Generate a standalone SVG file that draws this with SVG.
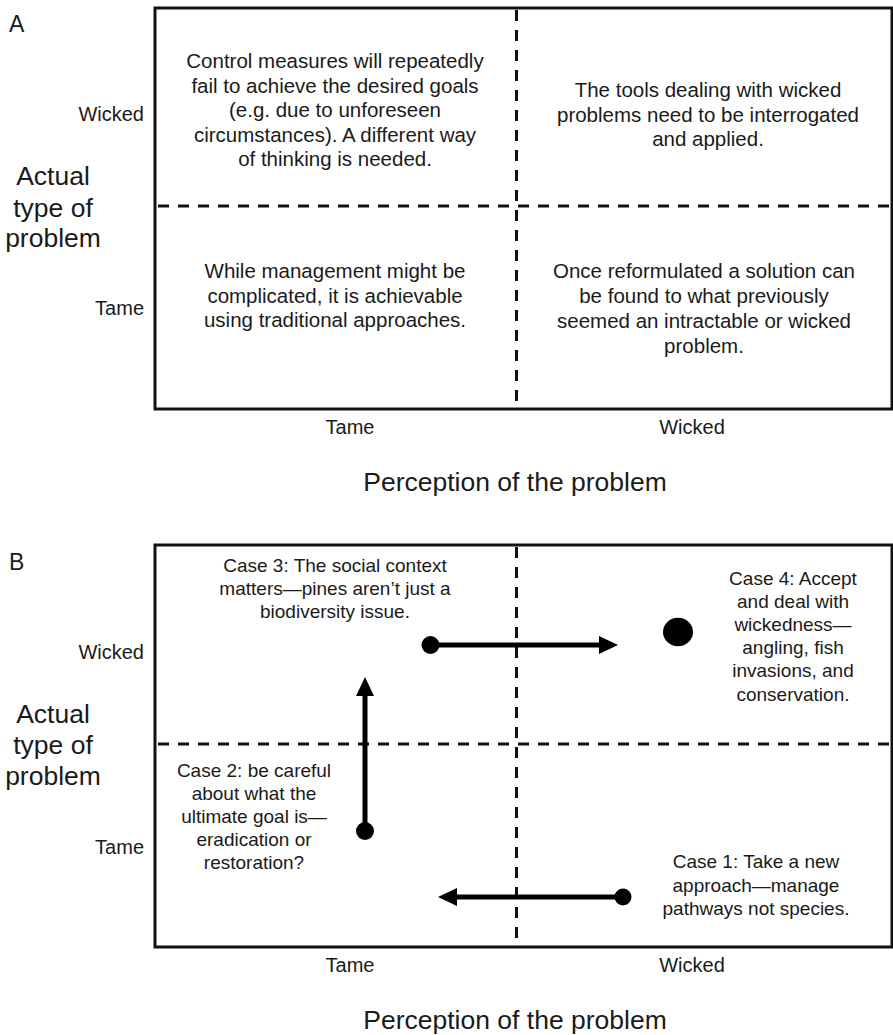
<svg xmlns="http://www.w3.org/2000/svg" width="893" height="1035" viewBox="0 0 893 1035">
<style>
text{font-family:"Liberation Sans",Arial,sans-serif;fill:#1a1a1a}
.q{font-size:20.5px;text-anchor:middle}
.c{font-size:19px;text-anchor:middle}
.lab{font-size:20px;text-anchor:end}
.ax{font-size:20px;text-anchor:middle}
.big{font-size:26.5px;text-anchor:middle}
.ttl{font-size:23px}
.box{fill:none;stroke:#111;stroke-width:3}
.dash{stroke:#111;stroke-width:3;stroke-dasharray:11 9;fill:none}
.arr{stroke:#000;stroke-width:5;fill:none}
.dot{fill:#000}
</style>
<defs>
<marker id="ah" markerUnits="userSpaceOnUse" markerWidth="20" markerHeight="18" refX="8" refY="9" orient="auto" viewBox="0 0 20 18">
<polygon points="0,0 19,9 0,18" fill="#000"/>
</marker>
</defs>

<g id="panelA">
<text class="ttl" x="9" y="32">A</text>
<rect class="box" x="155" y="8" width="737" height="401"/>
<g id="A-grid">
<line class="dash" x1="158" y1="206" x2="890" y2="206"/>
<line class="dash" x1="516.5" y1="10" x2="516.5" y2="407"/>
</g>
<g id="A-q-tl">
<text class="q" x="335" y="68">Control measures will repeatedly</text>
<text class="q" x="335" y="92.5">fail to achieve the desired goals</text>
<text class="q" x="335" y="117">(e.g. due to unforeseen</text>
<text class="q" x="335" y="141.5">circumstances). A different way</text>
<text class="q" x="335" y="166">of thinking is needed.</text>
</g>
<g id="A-q-tr">
<text class="q" x="708" y="97">The tools dealing with wicked</text>
<text class="q" x="708" y="121.5">problems need to be interrogated</text>
<text class="q" x="708" y="146">and applied.</text>
</g>
<g id="A-q-bl">
<text class="q" x="335" y="278">While management might be</text>
<text class="q" x="335" y="302.5">complicated, it is achievable</text>
<text class="q" x="335" y="327">using traditional approaches.</text>
</g>
<g id="A-q-br">
<text class="q" x="704" y="278">Once reformulated a solution can</text>
<text class="q" x="704" y="303">be found to what previously</text>
<text class="q" x="704" y="328">seemed an intractable or wicked</text>
<text class="q" x="704" y="353">problem.</text>
</g>
<g id="A-axes">
<text class="lab" x="144" y="121">Wicked</text>
<text class="lab" x="144" y="315">Tame</text>
<text class="big" x="53" y="185">Actual</text>
<text class="big" x="53" y="216.5">type of</text>
<text class="big" x="53" y="247">problem</text>
<text class="ax" x="350" y="434">Tame</text>
<text class="ax" x="692" y="434">Wicked</text>
<text class="big" x="515" y="491">Perception of the problem</text>
</g>
</g>

<g id="panelB">
<text class="ttl" x="9" y="570">B</text>
<rect class="box" x="155" y="545" width="737" height="402"/>
<g id="B-grid">
<line class="dash" x1="158" y1="744" x2="890" y2="744"/>
<line class="dash" x1="516.5" y1="547" x2="516.5" y2="945"/>
</g>
<g id="case3">
<text class="c" x="335" y="572">Case 3: The social context</text>
<text class="c" x="335" y="595">matters—pines aren’t just a</text>
<text class="c" x="335" y="618">biodiversity issue.</text>
</g>
<g id="case4">
<text class="c" x="793" y="585">Case 4: Accept</text>
<text class="c" x="793" y="608">and deal with</text>
<text class="c" x="793" y="631">wickedness—</text>
<text class="c" x="793" y="654">angling, fish</text>
<text class="c" x="793" y="677">invasions, and</text>
<text class="c" x="793" y="700.5">conservation.</text>
<ellipse class="dot" cx="678" cy="632" rx="15" ry="14.3"/>
</g>
<g id="case2">
<text class="c" x="254" y="777">Case 2: be careful</text>
<text class="c" x="254" y="800">about what the</text>
<text class="c" x="254" y="823">ultimate goal is—</text>
<text class="c" x="254" y="846">eradication or</text>
<text class="c" x="254" y="869">restoration?</text>
</g>
<g id="case1">
<text class="c" x="756" y="868">Case 1: Take a new</text>
<text class="c" x="756" y="891.5">approach—manage</text>
<text class="c" x="756" y="915">pathways not species.</text>
</g>
<g id="connectors">
<circle class="dot" cx="430.5" cy="645" r="9"/>
<line class="arr" x1="430.5" y1="645" x2="607" y2="645" marker-end="url(#ah)"/>
<circle class="dot" cx="365" cy="831" r="9"/>
<line class="arr" x1="365" y1="831" x2="365" y2="688" marker-end="url(#ah)"/>
<circle class="dot" cx="623" cy="897" r="8.5"/>
<line class="arr" x1="623" y1="897" x2="449" y2="897" marker-end="url(#ah)"/>
</g>
<g id="B-axes">
<text class="lab" x="144" y="659">Wicked</text>
<text class="lab" x="144" y="854">Tame</text>
<text class="big" x="53" y="723">Actual</text>
<text class="big" x="53" y="754">type of</text>
<text class="big" x="53" y="785">problem</text>
<text class="ax" x="350" y="972">Tame</text>
<text class="ax" x="692" y="972">Wicked</text>
<text class="big" x="515" y="1029">Perception of the problem</text>
</g>
</g>
</svg>
